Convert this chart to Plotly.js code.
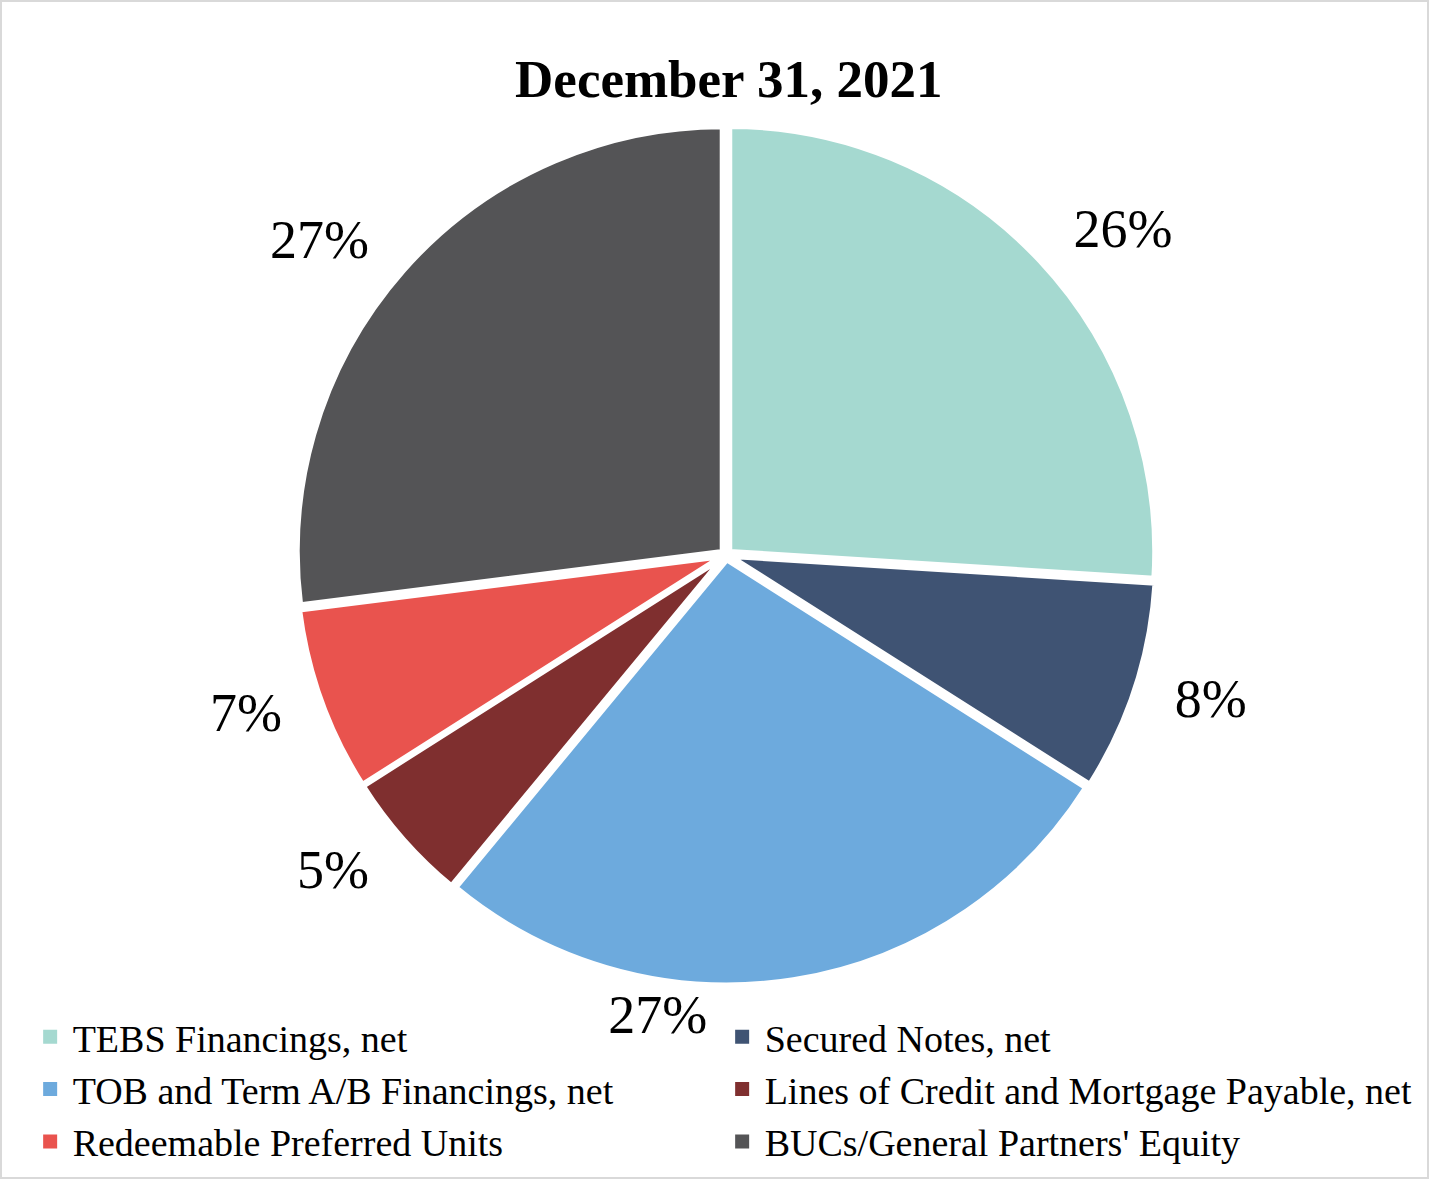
<!DOCTYPE html>
<html>
<head>
<meta charset="utf-8">
<script src="https://cdn.plot.ly/plotly-3.0.1.min.js"></script>
<style>
html,body{margin:0;padding:0;background:#fff;}
#chart{width:1425px;height:1175px;border:2px solid #D9D9D9;}
</style>
</head>
<body>
<div id="chart"></div>
<script>
const categories = [
  "TEBS Financings, net",
  "Secured Notes, net",
  "TOB and Term A/B Financings, net",
  "Lines of Credit and Mortgage Payable, net",
  "Redeemable Preferred Units",
  "BUCs/General Partners' Equity"
];
const shares = [26, 8, 27, 5, 7, 27];
const labelsText = ["26%", "8%", "27%", "5%", "7%", "27%"];
const colors = ["#A5D9D0", "#3F5373", "#6DAADD", "#7F2F2F", "#E9534E", "#545456"];

const serif = "Liberation Serif, Times New Roman, serif";
const labelFont = {family: serif, size: 54, color: "#000"};
const clear = colors.map(function () { return "rgba(0,0,0,0)"; });
const mainDomain = {x: [0.2063, 0.8099], y: [0.1634, 0.8954]};

// Main pie: the drawn slices, no labels.
const pieMain = {
  type: "pie",
  labels: categories,
  values: shares,
  textinfo: "none",
  sort: false,
  direction: "clockwise",
  rotation: 0,
  pull: 0.012,
  marker: {colors: colors, line: {color: "#FFFFFF", width: 5}},
  domain: mainDomain,
  automargin: false,
  hoverinfo: "label+percent"
};

// Transparent, slightly larger concentric pie: places the side labels a bit farther out.
const pieLabels = {
  type: "pie",
  labels: categories,
  values: shares,
  text: labelsText,
  textinfo: "text",
  textposition: ["outside", "outside", "none", "outside", "outside", "outside"],
  sort: false,
  direction: "clockwise",
  rotation: 0,
  pull: 0.012,
  marker: {colors: clear, line: {width: 0}},
  outsidetextfont: labelFont,
  domain: {x: [0.1880, 0.8282], y: [0.1414, 0.9174]},
  automargin: false,
  showlegend: false,
  hoverinfo: "skip"
};

// Transparent pie for the bottom label, set so the label falls just left of the bottom.
const pieBottomLabel = {
  type: "pie",
  labels: categories,
  values: shares,
  text: labelsText,
  textinfo: "text",
  textposition: ["none", "none", "outside", "none", "none", "none"],
  sort: false,
  direction: "clockwise",
  rotation: 9.5,
  pull: 0.012,
  marker: {colors: clear, line: {width: 0}},
  outsidetextfont: labelFont,
  domain: mainDomain,
  automargin: false,
  showlegend: false,
  hoverinfo: "skip"
};

const layout = {
  width: 1425,
  height: 1175,
  margin: {l: 0, r: 0, t: 0, b: 0},
  paper_bgcolor: "#FFFFFF",
  title: {
    text: "<b>December 31, 2021</b>",
    font: {family: serif, size: 53, color: "#000"},
    x: 0.51, xanchor: "center",
    y: 0.935, yanchor: "middle"
  },
  showlegend: true,
  legend: {
    orientation: "h",
    x: 0.018, xanchor: "left",
    y: 0.003, yanchor: "bottom",
    bgcolor: "rgba(0,0,0,0)",
    entrywidth: 642, entrywidthmode: "pixels",
    font: {family: serif, size: 38, color: "#000"},
    itemwidth: 35,
    traceorder: "normal"
  }
};

Plotly.newPlot("chart", [pieMain, pieLabels, pieBottomLabel], layout, {displayModeBar: false, staticPlot: true}).then(function () {
  document.querySelectorAll("#chart path.legendpie").forEach(function (p) {
    p.setAttribute("d", "M7,7H-7V-7H7Z");
    p.style.strokeWidth = "0px";
  });
});
</script>
</body>
</html>
